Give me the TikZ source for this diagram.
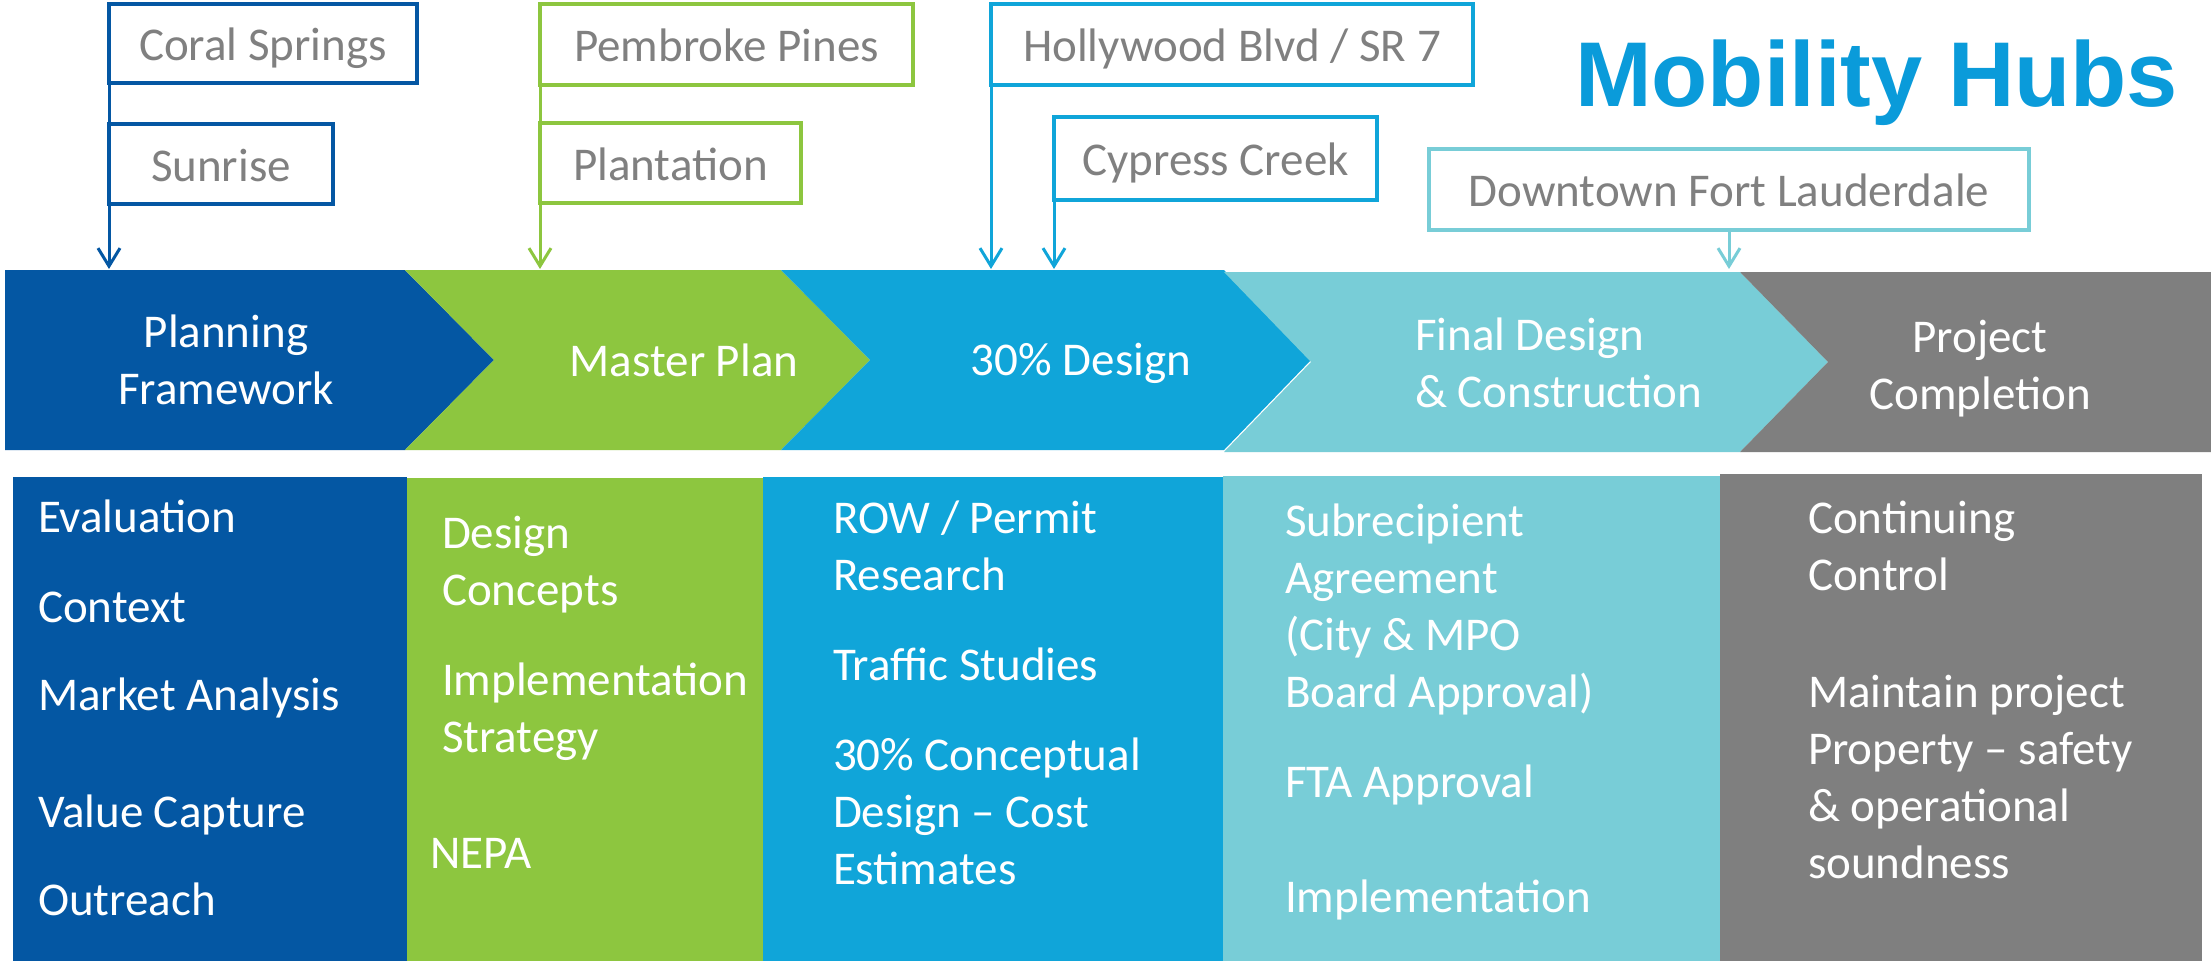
\documentclass[tikz,border=0pt]{standalone}
\usepackage{fontspec}
\setmainfont{Carlito}
\newfontfamily\titlefont{Liberation Sans}
\usetikzlibrary{arrows.meta}
\definecolor{cdblue}{RGB}{4,87,163}
\definecolor{cgreen}{RGB}{141,198,63}
\definecolor{cblue}{RGB}{16,165,217}
\definecolor{clblue}{RGB}{120,205,215}
\definecolor{cgray}{RGB}{127,127,127}
\definecolor{ctitle}{RGB}{10,155,218}
\definecolor{cboxtext}{RGB}{128,128,128}
\begin{document}
\begin{tikzpicture}[x=1pt,y=-1pt,
  every node/.style={font=\fontsize{47}{57}\selectfont, inner sep=0pt, outer sep=0pt},
  wtext/.style={text=white, anchor=base west, align=left},
  ctext/.style={text=white, anchor=base, align=center},
  loc/.style={draw=#1, line width=4pt, fill=white, text=cboxtext, text height=34pt, text depth=0pt, align=center},
  conn/.style={draw=#1, line width=3pt},
  arr/.style={draw=#1, line width=3pt, -{Straight Barb[length=18pt,width=22pt]}}]
\useasboundingbox (0,0) rectangle (2211,961);
\fill[white] (0,0) rectangle (2211,961);

% banner chevrons
\fill[cdblue] (5,270) -- (405,270) -- (494,360) -- (405,450) -- (5,450) -- cycle;
\fill[cgreen] (405,270) -- (781,270) -- (870,360) -- (781,450) -- (405,450) -- (494,360) -- cycle;
\fill[cblue] (781,270) -- (1224,270) -- (1311,360) -- (1224,450) -- (781,450) -- (870,360) -- cycle;
\fill[clblue] (1224,272) -- (1740,272) -- (1828,362) -- (1740,452) -- (1224,452) -- (1311,362) -- cycle;
\fill[cgray] (1740,272) -- (2211,272) -- (2211,452) -- (1740,452) -- (1828,362) -- cycle;
\coordinate (bantop) at (0,269);

% banner labels (base = baseline of last line)
\node[ctext] (pf) at (226,404) {Planning\\Framework};
\node[ctext] (mp) at (684,376) {Master Plan};
\node[ctext] (d30) at (1081,375) {30\% Design};
\node[wtext] (fd) at (1415,407) {Final Design\\\& Construction};
\node[ctext] (pc) at (1980,409) {Project\\Completion};

% columns
\fill[cdblue] (13,477) rectangle (407,961);
\fill[cgreen] (407,478) rectangle (763,961);
\fill[cblue] (763,477) rectangle (1224,961);
\fill[clblue] (1223,476) rectangle (1720,961);
\fill[cgray] (1720,474) rectangle (2202,961);

% column texts
\node[wtext] (a1) at (38,532) {Evaluation};
\node[wtext] (a2) at (38,622) {Context};
\node[wtext] (a3) at (38,710) {Market Analysis};
\node[wtext] (a4) at (38,827) {Value Capture};
\node[wtext] (a5) at (38,915) {Outreach};

\node[wtext] (b1) at (442,605) {Design\\Concepts};
\node[wtext] (b2) at (442,752) {Implementation\\Strategy};
\node[wtext] (b3) at (430,868) {NEPA};

\node[wtext] (c1) at (833,590) {ROW / Permit\\Research};
\node[wtext] (c2) at (833,680) {Traffic Studies};
\node[wtext] (c3) at (833,884) {30\% Conceptual\\Design – Cost\\Estimates};

\node[wtext] (d1) at (1285,707) {Subrecipient\\Agreement\\(City \& MPO\\Board Approval)};
\node[wtext] (d2) at (1285,797) {FTA Approval};
\node[wtext] (d3) at (1285,912) {Implementation};

\node[wtext] (e1) at (1808,590) {Continuing\\Control};
\node[wtext] (e2) at (1808,878) {Maintain project\\Property – safety\\\& operational\\soundness};

% location boxes
\node[loc=cdblue, minimum width=308pt, minimum height=79pt] (coral) at (263,43.5) {Coral Springs};
\node[loc=cdblue, minimum width=224pt, minimum height=80pt] (sunrise) at (221,164) {Sunrise};
\node[loc=cgreen, minimum width=373pt, minimum height=81pt] (pembroke) at (726.5,44.5) {Pembroke Pines};
\node[loc=cgreen, minimum width=261pt, minimum height=80pt] (plantation) at (670.5,163) {Plantation};
\node[loc=cblue, minimum width=482pt, minimum height=81pt] (hollywood) at (1232,44.5) {Hollywood Blvd / SR 7};
\node[loc=cblue, minimum width=323pt, minimum height=83pt] (cypress) at (1215.5,158.5) {Cypress Creek};
\node[loc=clblue, minimum width=600pt, minimum height=81pt] (downtown) at (1729,189.5) {Downtown Fort Lauderdale};

% connectors
\draw[conn=cdblue] (coral.south west) -- (sunrise.north west);
\draw[arr=cdblue] (sunrise.south west) -- (sunrise.south west |- bantop);
\draw[conn=cgreen] (pembroke.south west) -- (plantation.north west);
\draw[arr=cgreen] (plantation.south west) -- (plantation.south west |- bantop);
\draw[arr=cblue] (hollywood.south west) -- (hollywood.south west |- bantop);
\draw[arr=cblue] (cypress.south west) -- (cypress.south west |- bantop);
\draw[arr=clblue] (downtown.south) -- (downtown.south |- bantop);

% title
\node[font=\titlefont\bfseries\fontsize{92}{100}\selectfont, text=ctitle, anchor=base west] (title) at (1575,106) {Mobility Hubs};
\end{tikzpicture}
\end{document}
